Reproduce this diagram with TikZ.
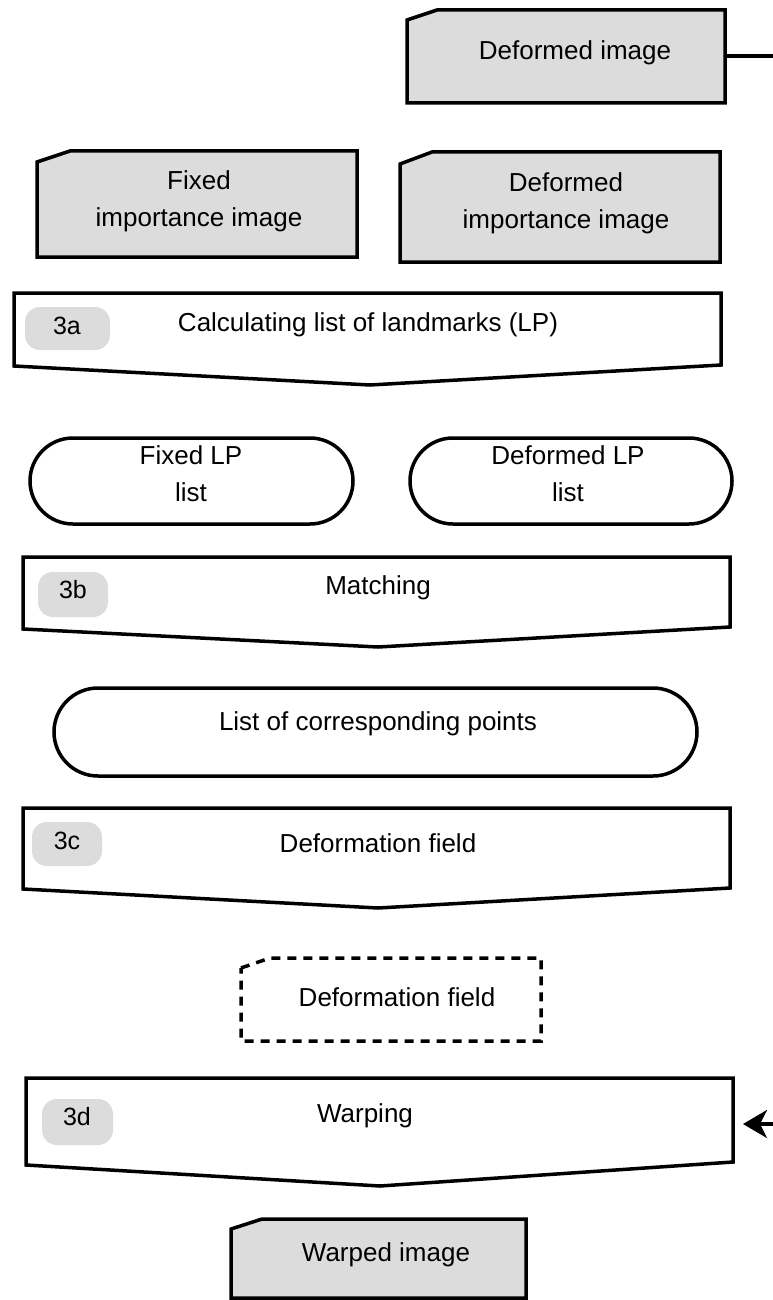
\documentclass[tikz,border=0pt]{standalone}
\usepackage{fontspec}
\setmainfont{Liberation Sans}
\usetikzlibrary{arrows.meta,shapes.misc}
\definecolor{boxgray}{HTML}{DCDCDC}
\begin{document}
\begin{tikzpicture}[x=1pt,y=-1pt,
  lbl/.style={inner sep=0pt,font=\fontsize{26}{37}\selectfont,align=center},
  badgelbl/.style={inner sep=0pt,font=\fontsize{25}{28}\selectfont},
  solidline/.style={line width=3.5pt,line join=miter},
  docbox/.style={solidline,fill=boxgray},
  procbox/.style={solidline,fill=white},
  badge/.style={fill=boxgray,rounded corners=15pt},
  dashbox/.style={line width=3.5pt,dash pattern=on 9pt off 7pt}]
\useasboundingbox (0,0) rectangle (773,1300);
% Deformed image
\draw[docbox] (407,20) -- (437,10) -- (725,10) -- (725,103) -- (407,103) -- cycle;
\node[lbl] (defimg) at (575,53) {Deformed image};
\coordinate (defimgR) at (725,56);
\coordinate (offR) at (775,56);
\draw[solidline] (defimgR) -- (offR);
% Fixed importance image
\draw[docbox] (37,162) -- (70,151) -- (357,151) -- (357,257) -- (37,257) -- cycle;
\node[lbl] (fiximp) at (199,201) {Fixed\\importance image};
% Deformed importance image
\draw[docbox] (400,164) -- (432,152) -- (720,152) -- (720,262) -- (400,262) -- cycle;
\node[lbl] (defimp) at (566,203) {Deformed\\importance image};
% 3a
\draw[procbox] (14,293) -- (721,293) -- (721,365) -- (370,385) -- (14,366) -- cycle;
\fill[badge] (25,307) rectangle (110,350);
\node[badgelbl] (b3a) at (67,326) {3a};
\node[lbl] (p3a) at (368,325) {Calculating list of landmarks (LP)};
% LP lists
\draw[solidline,rounded corners=43pt] (30,438) rectangle (353,524);
\node[lbl] (fixlp) at (191,474) {Fixed LP\\list};
\draw[solidline,rounded corners=43pt] (410,438) rectangle (732,524);
\node[lbl] (deflp) at (568,474) {Deformed LP\\list};
% 3b
\draw[procbox] (23,557) -- (730,557) -- (730,627) -- (378,647) -- (23,629) -- cycle;
\fill[badge] (38,572) rectangle (108,617);
\node[badgelbl] (b3b) at (73,590) {3b};
\node[lbl] (p3b) at (378,588) {Matching};
% corresponding points
\draw[solidline,rounded corners=44pt] (54,688) rectangle (697,776);
\node[lbl] (corr) at (378,724) {List of corresponding points};
% 3c
\draw[procbox] (23,808) -- (730,808) -- (730,888) -- (378,908) -- (23,889) -- cycle;
\fill[badge] (32,822) rectangle (102,866);
\node[badgelbl] (b3c) at (67,841) {3c};
\node[lbl] (p3c) at (378,843) {Deformation field};
% dashed deformation field
\draw[dashbox] (241,968) -- (270,958) -- (541,958) -- (541,1041) -- (241,1041) -- cycle;
\node[lbl] (dfield) at (397,997) {Deformation field};
% 3d
\draw[procbox] (26,1078) -- (733,1078) -- (733,1162) -- (380,1186) -- (26,1165) -- cycle;
\fill[badge] (42,1099) rectangle (113,1145);
\node[badgelbl] (b3d) at (77,1117) {3d};
\node[lbl] (p3d) at (365,1116) {Warping};
\coordinate (warpR) at (743,1124);
\coordinate (offR2) at (775,1124);
\draw[solidline,-{Stealth[length=24pt,width=28pt,inset=7pt]}] (offR2) -- (warpR);
% Warped image
\draw[docbox] (231,1229) -- (262,1219) -- (526,1219) -- (526,1298) -- (231,1298) -- cycle;
\node[lbl] (warped) at (386,1255) {Warped image};
\end{tikzpicture}
\end{document}
